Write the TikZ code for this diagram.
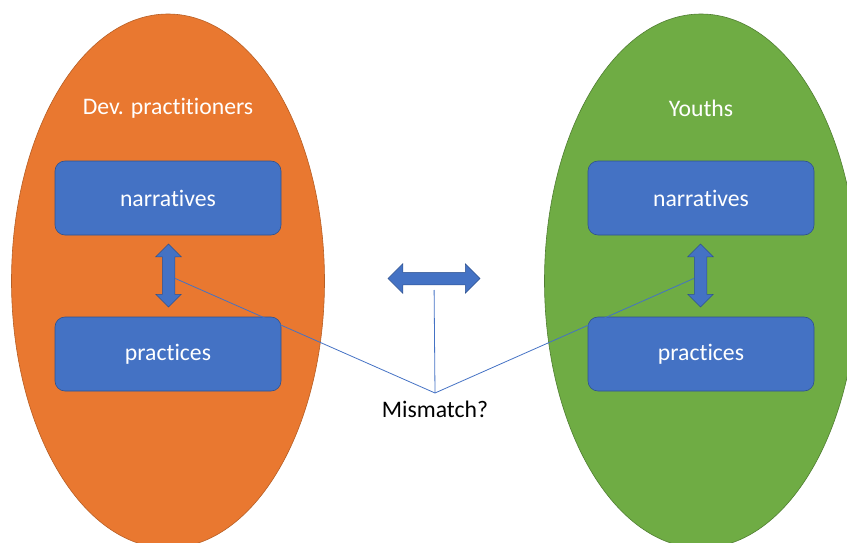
\documentclass[tikz,border=0pt]{standalone}
\usepackage{fontspec}
\setmainfont{Carlito}[Ligatures=NoCommon]
\usepackage{tikz}
\usetikzlibrary{shapes,arrows}
\usetikzlibrary{positioning}
\definecolor{orgfill}{HTML}{E97830}
\definecolor{orgline}{HTML}{B75F25}
\definecolor{grnfill}{HTML}{6FAC44}
\definecolor{grnline}{HTML}{507E32}
\definecolor{boxfill}{HTML}{4472C4}
\definecolor{boxline}{HTML}{2F528F}
\newcommand{\labelfont}{\fontsize{23.7}{28}\selectfont}
\tikzstyle{group}=[ellipse,inner sep=0pt,minimum width=313pt,minimum height=534pt,line width=0.6pt]
\tikzstyle{devs}=[group,fill=orgfill,draw=orgline]
\tikzstyle{youth}=[group,fill=grnfill,draw=grnline]
\tikzstyle{title}=[text=white,font=\labelfont]
\tikzstyle{box}=[rectangle,rounded corners=10pt,fill=boxfill,draw=boxline,line width=0.6pt,
                minimum width=226pt,minimum height=74pt,text=white,font=\labelfont]
\tikzstyle{twoway}=[double arrow,inner xsep=0pt,inner ysep=6pt,fill=boxfill,draw=boxline,
                line width=0.5pt]
\tikzstyle{wire}=[draw=boxfill,line width=0.8pt]

\begin{document}
\begin{tikzpicture}[x=1pt,y=-1pt]
\useasboundingbox (0,0) rectangle (847,543);
\clip (0,0) rectangle (847,543);
% the two groups
\node[devs] (devs) at (168,281) {};
\node[youth] (youth) at (701,281) {};
\node[title] (devtitle) at (168,108) {Dev. practitioners};
\node[title] (youthtitle) at (701,108) {Youths};
% narratives and practices
\node[box] (devnarr) at (168,198) {narratives};
\node[box] (devprac) at (168,354) {practices};
\node[box] (youthnarr) at (701,198) {narratives};
\node[box] (youthprac) at (701,354) {practices};
\node[twoway,rotate=90,minimum height=63pt,double arrow head extend=6.5pt] (devlink) at (168.5,275.5) {};
\node[twoway,rotate=90,minimum height=63pt,double arrow head extend=6.5pt] (youthlink) at (700.5,275.5) {};
\node[twoway,minimum height=92pt,double arrow head extend=8.5pt] (between) at (434,278.5) {};
% mismatch
\node[anchor=north,font=\labelfont,inner xsep=2pt,inner ysep=8pt] (mis) at (435,393) {Mismatch?};
\draw[wire] (devlink) -- (mis.north);
\draw[wire] (youthlink) -- (mis.north);
\draw[wire,shorten <=5pt] (between) -- (mis.north);
\end{tikzpicture}
\end{document}
